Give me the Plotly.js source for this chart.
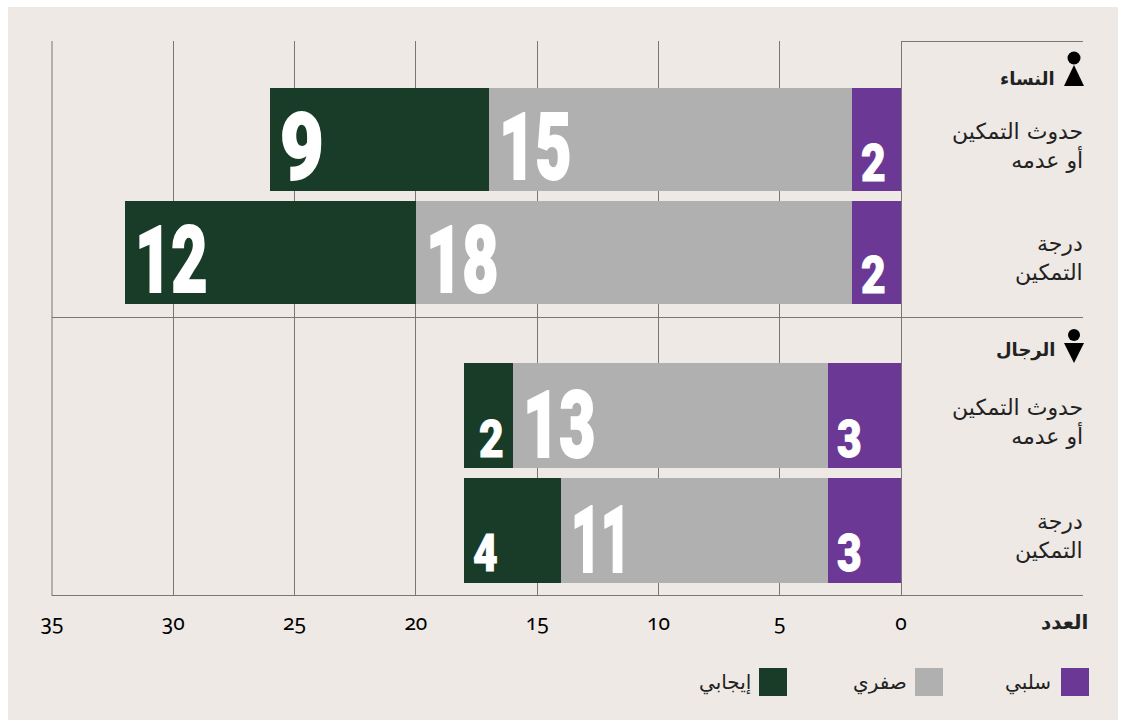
<!DOCTYPE html>
<html><head><meta charset="utf-8">
<script src="https://cdn.plot.ly/plotly-3.0.1.min.js"></script>
<style>html,body{margin:0;padding:0;background:#fff}#c{width:1125px;height:720px}
.xtick text{font-feature-settings:"onum";font-variant-numeric:oldstyle-nums}</style>
</head><body><div id="c"></div>
<script>
const categories = ["حدوث التمكين<br>أو عدمه", "درجة<br>التمكين"];
const womenNegative = [2, 2];
const womenNeutral = [15, 18];
const womenPositive = [9, 12];
const menNegative = [3, 3];
const menNeutral = [13, 11];
const menPositive = [2, 4];
const seriesNames = ["سلبي", "صفري", "إيجابي"];
const seriesColors = ["#6B3895", "#B0B0B0", "#183C28"];
const xTicks = [35, 30, 25, 20, 15, 10, 5, 0];
const groupWomen = "النساء";
const groupMen = "الرجال";
const axisName = "العدد";

const W = 1125, H = 720, L = 52, R = 901, T = 41, B = 596, MID = 318;
const px = v => (v - L) / (R - L), py = v => (B - v) / (B - T);
const arabic = "'DejaVu Sans', sans-serif";
const numFont = "Roboto, sans-serif";
const ruleColor = "#777";

function traces(vals, xaxis, yaxis, bw) {
  return vals.map((v, i) => ({
    type: "bar", orientation: "h", x: v, y: categories, xaxis, yaxis,
    name: seriesNames[i], width: bw,
    marker: {color: seriesColors[i], line: {width: 0}},
    hoverinfo: "x+name", showlegend: false
  }));
}
const data = [
  ...traces([womenNegative, womenNeutral, womenPositive], "x2", "y", 0.91),
  ...traces([menNegative, menNeutral, menPositive], "x", "y2", 0.913)
];

const annotations = [], shapes = [];
function labels(vals, xref, yref, bigShift) {
  categories.forEach((c, r) => {
    let cum = 0;
    vals.forEach((arr, i) => {
      const v = arr[r];
      const big = v >= 9;
      annotations.push({
        x: cum + v, y: c, xref, yref, text: String(v), showarrow: false,
        xanchor: "left",
        xshift: big ? 8 : (i === 2 && v === 2) ? 13 : 7,
        yshift: big ? bigShift : -23.5,
        font: {family: numFont, size: big ? 92 : 52, weight: 900, color: "#fff"}
      });
      cum += v;
    });
    annotations.push({
      x: (1085 - L) / (R - L), xref: "paper", y: c, yref, yshift: -6, text: c, showarrow: false,
      xanchor: "right", align: "right",
      font: {family: arabic, size: 22, color: "#222"}
    });
  });
}
labels([womenNegative, womenNeutral, womenPositive], "x2", "y", -8);
labels([menNegative, menNeutral, menPositive], "x", "y2", -10);

function paperText(xp, yp, text, size, bold) {
  annotations.push({
    x: px(xp), y: py(yp), xref: "paper", yref: "paper", xanchor: "right", yanchor: "middle",
    text: bold ? "<b>" + text + "</b>" : text, showarrow: false,
    font: {family: arabic, size, color: "#222"}
  });
}
paperText(1057, 78, groupWomen, 18, true);
paperText(1057, 350, groupMen, 18, true);
paperText(1090, 622, axisName, 20, true);

[1053, 909, 753].forEach((x, i) => paperText(x, 682, seriesNames[i], 20, false));
[1061, 915, 759].forEach((x, i) => shapes.push({
  type: "rect", xref: "paper", yref: "paper", x0: px(x), x1: px(x + 28), y0: py(668), y1: py(696),
  fillcolor: seriesColors[i], line: {width: 0}
}));
shapes.push({type: "rect", xref: "paper", yref: "paper", layer: "below", x0: px(8), x1: px(1118), y0: py(7), y1: py(720),
  fillcolor: "#EEE9E5", line: {width: 0}});
[[901, 1083, T + 0.5], [L, 1083, MID - 0.5], [L, 1083, B - 0.5]].forEach(r => shapes.push({
  type: "line", xref: "paper", yref: "paper", layer: "below", x0: px(r[0]), x1: px(r[1]), y0: py(r[2]), y1: py(r[2]),
  line: {color: ruleColor, width: 1}
}));
// grid lines at the two ends of the range, which the axis itself leaves out
[L, R + 0.5].forEach(x => shapes.push({type: "line", xref: "paper", yref: "paper", layer: "below", x0: px(x), x1: px(x), y0: 0, y1: 1,
  line: {color: ruleColor, width: 1}}));
function icon(cy, r, ty0, ty1, apexDown) {
  shapes.push({type: "circle", xref: "paper", yref: "paper", x0: px(1074 - r), x1: px(1074 + r), y0: py(cy - r), y1: py(cy + r),
    fillcolor: "#000", line: {width: 0}});
  const a = apexDown ? ty1 : ty0, b = apexDown ? ty0 : ty1;
  shapes.push({type: "path", xref: "paper", yref: "paper",
    path: `M ${px(1074)} ${py(a)} L ${px(1084)} ${py(b)} L ${px(1064)} ${py(b)} Z`,
    fillcolor: "#000", line: {width: 0}});
}
icon(58, 6.5, 65, 86, false);
icon(335, 6, 343, 363, true);

const grid = {showgrid: true, gridcolor: ruleColor, gridwidth: 1, zeroline: false, layer: "below traces"};
const layout = {
  width: W, height: H, margin: {l: L, r: W - R, t: T, b: H - B},
  paper_bgcolor: "#fff", plot_bgcolor: "rgba(0,0,0,0)", barmode: "stack", showlegend: false,
  xaxis: {...grid, range: [35, 0], tickvals: xTicks, ticktext: xTicks.map(String), ticks: "", anchor: "y2",
    showline: false, tickfont: {family: "'Noto Sans', 'Open Sans', serif", size: 21, color: "#000"}, ticklabelstandoff: 12},
  xaxis2: {...grid, range: [35, 0], tickvals: xTicks, showticklabels: false, ticks: "", anchor: "y", matches: "x"},
  yaxis: {domain: [py(MID), 1], anchor: "x2", type: "category", categoryorder: "array", categoryarray: categories,
    range: [1.58, -0.872], showticklabels: false, showgrid: false, zeroline: false, ticks: ""},
  yaxis2: {domain: [0, py(MID)], anchor: "x", type: "category", categoryorder: "array", categoryarray: categories,
    range: [1.57, -0.848], showticklabels: false, showgrid: false, zeroline: false, ticks: ""},
  annotations, shapes
};
// the reference numerals are a heavy condensed face: narrow and thicken Roboto Black
const condenseFor = s => s === "11" ? 0.56 : s.length === 1 ? 0.82 : 0.68;
Plotly.newPlot("c", data, layout, {displayModeBar: false, staticPlot: true}).then(() => {
  document.querySelectorAll(".annotation-text").forEach(t => {
    const s = t.textContent;
    if (!/^\d+$/.test(s)) return;
    const k = condenseFor(s), b = t.getBBox();
    t.setAttribute("transform", `translate(${b.x * (1 - k)},0) scale(${k},1)`);
    t.style.stroke = "#fff";
    t.style.strokeWidth = (b.height > 80 ? 2 : 1) + "px";
  });
});
</script></body></html>
